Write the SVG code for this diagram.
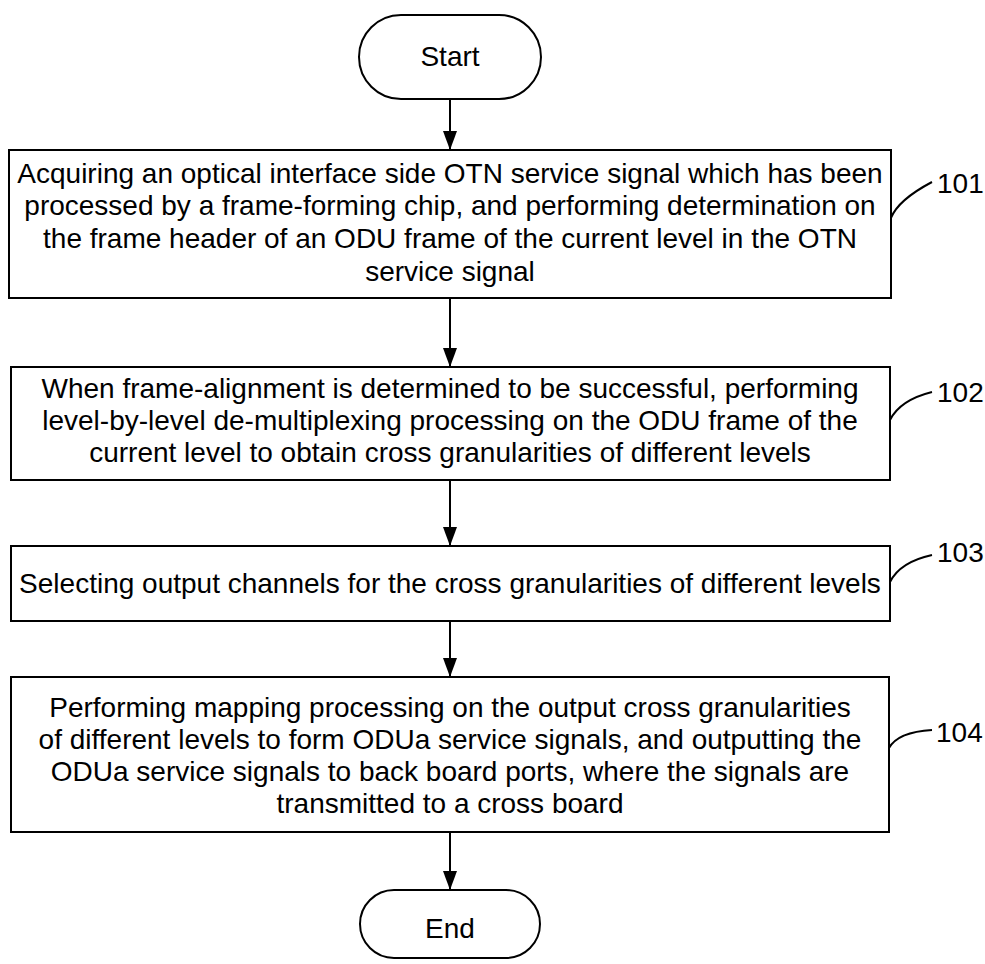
<svg xmlns="http://www.w3.org/2000/svg" width="985" height="964" viewBox="0 0 985 964">
<style>
.box{fill:#fff;stroke:#000;stroke-width:2}
.t{font-family:"Liberation Sans",Arial,sans-serif;font-size:28px;fill:#000;text-anchor:middle}
.lbl{font-family:"Liberation Sans",Arial,sans-serif;font-size:28px;fill:#000}
.con{stroke:#000;stroke-width:2;fill:none}
.lead{stroke:#000;stroke-width:2;fill:none}
</style>
<defs>
<marker id="ah" markerWidth="19" markerHeight="14" refX="19" refY="7" orient="auto" markerUnits="userSpaceOnUse" viewBox="0 0 19 14">
<path d="M0,0 L19,7 L0,14 Z" fill="#000"/>
</marker>
</defs>
<rect width="985" height="964" fill="#fff"/>
<g id="connectors">
<line class="con" x1="450" y1="99" x2="450" y2="150" marker-end="url(#ah)"/>
<line class="con" x1="450" y1="298" x2="450" y2="367" marker-end="url(#ah)"/>
<line class="con" x1="450" y1="480" x2="450" y2="546" marker-end="url(#ah)"/>
<line class="con" x1="450" y1="621" x2="450" y2="677" marker-end="url(#ah)"/>
<line class="con" x1="450" y1="832" x2="450" y2="890" marker-end="url(#ah)"/>
<path class="lead" d="M891,218 Q898,200 932,182"/>
<path class="lead" d="M890,420 Q900,400 932,392"/>
<path class="lead" d="M890,582 Q900,562 932,555"/>
<path class="lead" d="M889,748 Q898,732 932,730"/>
</g>
<g id="start">
<rect class="box" x="359" y="15" width="182" height="84" rx="42" ry="42"/>
<text class="t" x="450" y="66">Start</text>
</g>
<g id="step101">
<rect class="box" x="9" y="150" width="882" height="148"/>
<text class="t" x="450" y="183">Acquiring an optical interface side OTN service signal which has been</text>
<text class="t" x="450" y="215">processed by a frame-forming chip, and performing determination on</text>
<text class="t" x="450" y="248">the frame header of an ODU frame of the current level in the OTN</text>
<text class="t" x="450" y="281">service signal</text>
<text class="lbl" x="937" y="193">101</text>
</g>
<g id="step102">
<rect class="box" x="11" y="367" width="879" height="113"/>
<text class="t" x="450" y="398">When frame-alignment is determined to be successful, performing</text>
<text class="t" x="450" y="430">level-by-level de-multiplexing processing on the ODU frame of the</text>
<text class="t" x="450" y="462">current level to obtain cross granularities of different levels</text>
<text class="lbl" x="937" y="402">102</text>
</g>
<g id="step103">
<rect class="box" x="11" y="546" width="879" height="75"/>
<text class="t" x="450" y="593">Selecting output channels for the cross granularities of different levels</text>
<text class="lbl" x="937" y="562">103</text>
</g>
<g id="step104">
<rect class="box" x="11" y="677" width="878" height="155"/>
<text class="t" x="450" y="717">Performing mapping processing on the output cross granularities</text>
<text class="t" x="450" y="749">of different levels to form ODUa service signals, and outputting the</text>
<text class="t" x="450" y="781">ODUa service signals to back board ports, where the signals are</text>
<text class="t" x="450" y="813">transmitted to a cross board</text>
<text class="lbl" x="936" y="742">104</text>
</g>
<g id="end">
<rect class="box" x="360" y="890" width="180" height="68" rx="34" ry="34"/>
<text class="t" x="450" y="938">End</text>
</g>
</svg>
